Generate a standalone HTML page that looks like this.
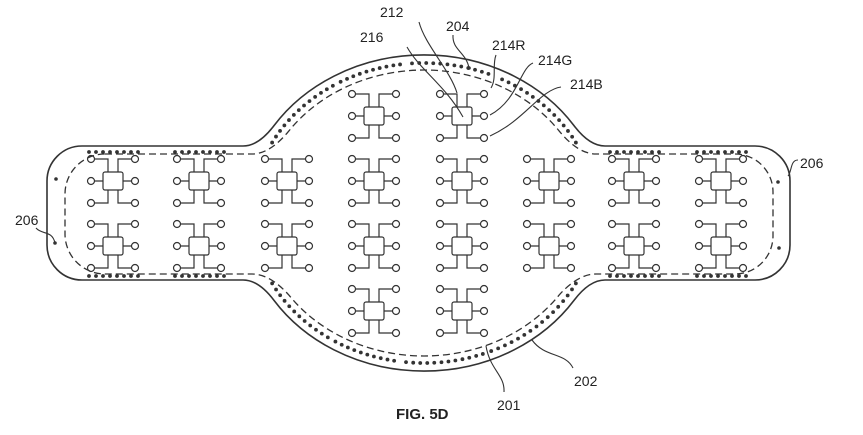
<!DOCTYPE html>
<html><head><meta charset="utf-8"><style>
html,body{margin:0;padding:0;background:#fff;width:863px;height:435px;overflow:hidden}
svg{display:block}
text{font-family:"Liberation Sans",sans-serif;font-size:14px;fill:#222}
</style></head><body>
<svg id="s" width="863" height="435" viewBox="0 0 863 435" xmlns="http://www.w3.org/2000/svg">
<g fill="none" stroke="#333" stroke-width="1.6">
<path d="M82,146 L243,146 Q258.6,146 274,125.6 A180 158 0 0 1 574,125.6 Q589.4,146 605,146 L755,146 A35 35 0 0 1 790,181 L790,245 A35 35 0 0 1 755,280 L605,280 Q589.4,280 574,300.4 A180 158 0 0 1 274,300.4 Q258.6,280 243,280 L82,280 A35 35 0 0 1 47,245 L47,181 A35 35 0 0 1 82,146 Z"/>
<path stroke-width="1.3" stroke-dasharray="7,4" d="M105,154 L252,154 Q270,154 289,130.8 A165 143 0 0 1 559,130.8 Q578,154 596,154 L735,154 A38 38 0 0 1 773,192 L773,236 A38 38 0 0 1 735,274 L596,274 Q578,274 559,295.2 A165 143 0 0 1 289,295.2 Q270,274 252,274 L105,274 A40 40 0 0 1 65,234 L65,194 A40 40 0 0 1 105,154 Z"/>
</g>
<g id="cells" fill="none" stroke="#333" stroke-width="1.2"></g>
<g id="dots" fill="#333"></g>
<g fill="none" stroke="#333" stroke-width="1.1">
<path d="M419,22 C425,45 450,70 457,93"/>
<path d="M407,47 C420,70 445,85 463,117"/>
<path d="M453,35 C452,50 466,52 469,68"/>
<path d="M496,55 C492,65 497,78 491,88"/>
<path d="M533,63 C520,68 518,100 490,115"/>
<path d="M561,87 C540,90 525,120 490,136"/>
<path d="M486,346 C490,370 505,375 504,392"/>
<path d="M532,340 C545,358 565,352 573,368"/>
<path d="M798,160 C790,160 792,172 788,176"/>
<path d="M36,228 C42,235 52,230 55,243"/>
</g>
<circle cx="55" cy="243" r="1.8" fill="#333"/><circle cx="56" cy="179" r="1.8" fill="#333"/>
<circle cx="778" cy="182" r="1.8" fill="#333"/><circle cx="779" cy="248" r="1.8" fill="#333"/>
<circle cx="469" cy="68" r="1.8" fill="#333"/>
<text x="380" y="17">212</text>
<text x="360" y="42">216</text>
<text x="446" y="31">204</text>
<text x="492" y="50">214R</text>
<text x="538" y="65">214G</text>
<text x="570" y="89">214B</text>
<text x="800" y="168">206</text>
<text x="15" y="225">206</text>
<text x="497" y="410">201</text>
<text x="574" y="386">202</text>
<text x="396" y="419" style="font-weight:bold;font-size:15px">FIG. 5D</text>
</svg>
<script>
var NS="http://www.w3.org/2000/svg";
function el(p,t,a){var e=document.createElementNS(NS,t);for(var k in a)e.setAttribute(k,a[k]);p.appendChild(e);return e;}
var cg=document.getElementById("cells");
function cell(cx,cy){
 var d="";
 [-22,22].forEach(function(dy){
  d+="M"+(cx-18.5)+","+(cy+dy)+" H"+(cx-5)+" V"+(cy+(dy<0?-9:9));
  d+="M"+(cx+18.5)+","+(cy+dy)+" H"+(cx+5)+" V"+(cy+(dy<0?-9:9));
 });
 d+="M"+(cx-18.5)+","+cy+" H"+(cx-10)+"M"+(cx+18.5)+","+cy+" H"+(cx+10);
 el(cg,"path",{d:d});
 el(cg,"rect",{x:cx-10,y:cy-9,width:20,height:18,rx:2});
 [-22,0,22].forEach(function(dy){
  el(cg,"circle",{cx:cx-22,cy:cy+dy,r:3.5});
  el(cg,"circle",{cx:cx+22,cy:cy+dy,r:3.5});
 });
}
var cols=[113,199,287,374,462,549,634,721];
cols.forEach(function(x,i){
 var rows=(i==3||i==4)?[116,181,246,311]:[181,246];
 rows.forEach(function(y){cell(x,y);});
});
var dg=document.getElementById("dots");
function dot(x,y){el(dg,"circle",{cx:x,cy:y,r:1.9});}
[113,199,634,721].forEach(function(x){
 for(var k=0;k<8;k++){dot(x-24+k*7,152);dot(x-24+k*7,276);}
});
var RX=172,RY=150,cx=424,cy=213;
function arc(a0,a1){var steps=400,pts=[],L=0,prev=null;
 for(var k=0;k<=steps;k++){var a=(a0+(a1-a0)*k/steps)*Math.PI/180;var p=[cx+RX*Math.cos(a),cy+RY*Math.sin(a)];if(prev)L+=Math.hypot(p[0]-prev[0],p[1]-prev[1]);pts.push([p,L]);prev=p;}
 var n=Math.round(L/7.2),j=0;for(var i=0;i<=n;i++){var t=L*i/n;while(j<pts.length-1&&pts[j][1]<t)j++;dot(pts[j][0][0],pts[j][0][1]);}}
arc(208,238);arc(241,262);arc(266,292);arc(297,332);
arc(152,124);arc(121,100);arc(96,70);arc(67,28);
</script>
</body></html>
